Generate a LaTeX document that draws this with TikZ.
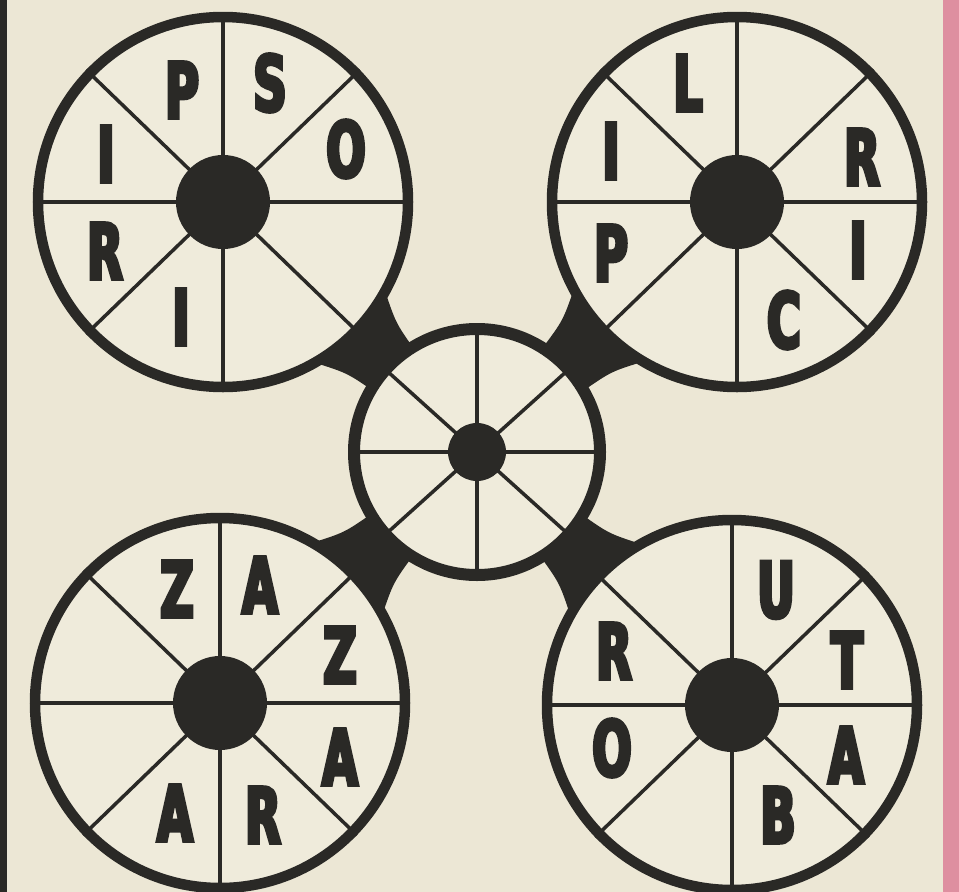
\documentclass[tikz,border=0pt]{standalone}
\usepackage{fontspec}
\newfontfamily\wl{DejaVu Sans}[FakeStretch=0.6,FakeBold=4.5]
\usetikzlibrary{calc}
\definecolor{paper}{HTML}{ECE7D5}
\definecolor{inner}{HTML}{EFEBDB}
\definecolor{ink}{HTML}{2A2926}
\definecolor{pinkedge}{HTML}{DE8FA0}
\newcommand\wjoint[3]{% #1 big wheel centre, #2 small wheel centre, #3 name
  \coordinate (#3m) at ($(#1)!208pt!(#2)$);
  \coordinate (#3a1) at ($(#1)!184pt!16:(#2)$);
  \coordinate (#3a2) at ($(#1)!184pt!-16:(#2)$);
  \coordinate (#3b1) at ($(#2)!121pt!-14:(#1)$);
  \coordinate (#3b2) at ($(#2)!121pt!14:(#1)$);
  \coordinate (#3q1) at ($(#3m)!35pt!90:(#2)$);
  \coordinate (#3q2) at ($(#3m)!35pt!-90:(#2)$);
  \fill[ink] (#3a1) .. controls (#3q1) .. (#3b1) -- (#3b2) .. controls (#3q2) .. (#3a2) -- cycle;}
\begin{document}
\begin{tikzpicture}[x=1pt,y=-1pt,
  bigrim/.style={circle, draw=ink, line width=10.5pt, fill=inner, minimum size=370pt, inner sep=0pt},
  smallrim/.style={circle, draw=ink, line width=12pt, fill=inner, minimum size=246pt, inner sep=0pt},
  bighub/.style={circle, fill=ink, minimum size=94pt, inner sep=0pt},
  smallhub/.style={circle, fill=ink, minimum size=58pt, inner sep=0pt},
  spokeline/.style={draw=ink, line width=3.5pt},
  lett/.style={font=\wl\bfseries\fontsize{77}{77}\selectfont, text=ink, inner sep=0pt}]
\useasboundingbox (0,0) rectangle (959,892);
\fill[paper] (0,0) rectangle (959,892);
\fill[ink] (0,0) rectangle (7,892);
\fill[pinkedge] (943,0) rectangle (959,892);
% centres
\coordinate (cTL) at (223,202);
\coordinate (cTR) at (737,202);
\coordinate (cBL) at (220,703);
\coordinate (cBR) at (732,705);
\coordinate (cC) at (477,452);
% joints
\wjoint{cTL}{cC}{jtl}
\wjoint{cTR}{cC}{jtr}
\wjoint{cBL}{cC}{jbl}
\wjoint{cBR}{cC}{jbr}
% wheels
\foreach \w in {TL,TR,BL,BR}{
  \node[bigrim] (w\w) at (c\w) {};
  \foreach \a in {0,44,90,136,180,224,270,316}{
    \draw[spokeline] (w\w.center) -- (w\w.\a);
  }
  \node[bighub] (h\w) at (c\w) {};
}
\node[smallrim] (wC) at (cC) {};
\foreach \a in {0,42,90,138,180,222,270,318}{
  \draw[spokeline] (wC.center) -- (wC.\a);
}
\node[smallhub] (hC) at (cC) {};
% letters top-left
\node[lett] (l1) at (182,90) {P};
\node[lett] (l2) at (270,83) {S};
\node[lett] (l3) at (346,149) {O};
\node[lett] (l4) at (106,154) {I};
\node[lett] (l5) at (105,251) {R};
\node[lett] (l6) at (181,317) {I};
% top-right
\node[lett] (l7) at (688,83) {L};
\node[lett] (l8) at (611,151) {I};
\node[lett] (l9) at (862,157) {R};
\node[lett] (l10) at (611,253) {P};
\node[lett] (l11) at (858,250) {I};
\node[lett] (l12) at (784,320) {C};
% bottom-left
\node[lett] (l13) at (177,589) {Z};
\node[lett] (l14) at (260,585) {A};
\node[lett] (l15) at (340,655) {Z};
\node[lett] (l16) at (340,757) {A};
\node[lett] (l17) at (175,813) {A};
\node[lett] (l18) at (263,815) {R};
% bottom-right
\node[lett] (l19) at (776,590) {U};
\node[lett] (l20) at (847,660) {T};
\node[lett] (l21) at (614,651) {R};
\node[lett] (l22) at (612,748) {O};
\node[lett] (l23) at (846,755) {A};
\node[lett] (l24) at (778,815) {B};
\end{tikzpicture}
\end{document}
